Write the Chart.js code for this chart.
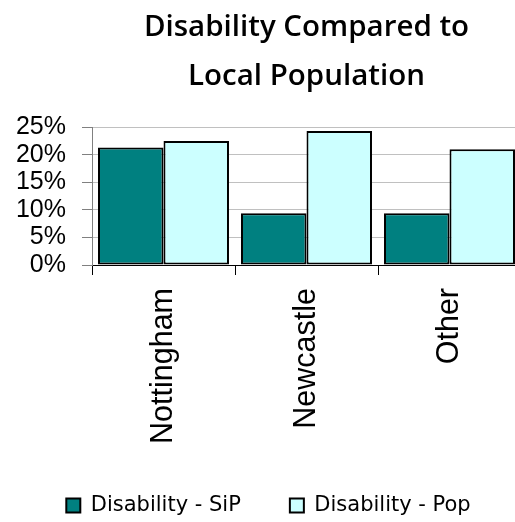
<!DOCTYPE html>
<html>
<head>
<meta charset="utf-8">
<script src="https://cdn.jsdelivr.net/npm/chart.js@4/dist/chart.umd.min.js"></script>
<style>
    html, body { margin: 0; padding: 0; background: #fff; overflow: hidden; }
    #wrap { width: 522px; height: 522px; }
</style>
</head>
<body>
<div id="wrap"><canvas id="disabilityChart"></canvas></div>
<script>
// Share of people with a disability, by area (percent)
const areas = ['Nottingham', 'Newcastle', 'Other'];
const sipValues = [21.3, 9.4, 9.4];
const popValues = [22.5, 24.3, 21.0];
const seriesNames = ['Disability - SiP', 'Disability - Pop'];
const titleLines = ['Disability Compared to', 'Local Population'];

const ctx = document.getElementById('disabilityChart').getContext('2d');

new Chart(ctx, {
    type: 'bar',
    data: {
        labels: areas,
        datasets: [
            {
                label: seriesNames[0],
                data: sipValues,
                backgroundColor: '#008080',
                borderColor: '#000000',
                borderWidth: 2,
                borderSkipped: false,
                categoryPercentage: 0.916,
                barPercentage: 1.0
            },
            {
                label: seriesNames[1],
                data: popValues,
                backgroundColor: '#CCFFFF',
                borderColor: '#000000',
                borderWidth: 2,
                borderSkipped: false,
                categoryPercentage: 0.916,
                barPercentage: 1.0
            }
        ]
    },
    options: {
        responsive: true,
        maintainAspectRatio: false,
        animation: false,
        layout: {
            padding: { top: 1, left: 16, right: 1, bottom: -4 }
        },
        plugins: {
            title: {
                display: true,
                text: titleLines,
                fullSize: false,
                color: '#000',
                font: { family: 'Open Sans', size: 29.5, weight: '600', lineHeight: 1.63 },
                padding: { top: 3, bottom: 27 }
            },
            legend: {
                position: 'bottom',
                labels: {
                    color: '#000',
                    boxWidth: 14,
                    boxHeight: 14,
                    padding: 49,
                    font: { family: 'DejaVu Sans', size: 21 }
                }
            },
            tooltip: { enabled: false }
        },
        scales: {
            x: {
                offset: true,
                // room below the axis for the upright category names
                afterFit: function(scale) {
                    scale.height = 181;
                },
                grid: {
                    display: true,
                    drawOnChartArea: false,
                    offset: true,
                    tickLength: 10,
                    tickColor: '#000'
                },
                border: { display: true, color: '#000' },
                ticks: {
                    color: '#000',
                    minRotation: 90,
                    maxRotation: 90,
                    padding: 13,
                    font: { family: 'Liberation Sans', size: 30.5 }
                }
            },
            y: {
                min: 0,
                max: 25,
                afterFit: function(scale) {
                    scale.width = 76;
                },
                grid: {
                    color: '#c0c0c0',
                    tickColor: '#808080',
                    tickLength: 10
                },
                border: { display: true, color: '#808080' },
                ticks: {
                    stepSize: 5,
                    autoSkip: false,
                    color: '#000',
                    padding: 16,
                    font: { family: 'Liberation Sans', size: 25 },
                    callback: function(value) {
                        return value + '%';
                    }
                }
            }
        }
    }
});
</script>
</body>
</html>
